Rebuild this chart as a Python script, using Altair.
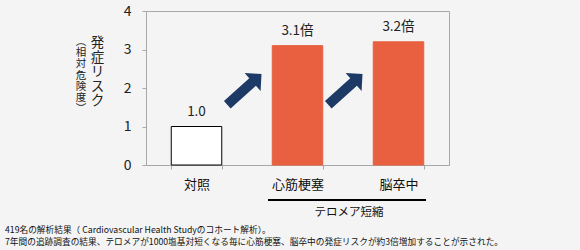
import altair as alt
import pandas as pd

categories = ["対照", "心筋梗塞", "脳卒中"]
risk = [1.0, 3.1, 3.2]
value_labels = ["1.0", "3.1倍", "3.2倍"]
arrow_targets = ["心筋梗塞", "脳卒中"]
y_ticks = [0, 1, 2, 3, 4]
axis_title_main = ["発", "症", "リ", "ス", "ク"]
axis_title_sub = ["︵", "相", "対", "危", "険", "度", "︶"]
group_label = "テロメア短縮"
footnotes = [
    "419名の解析結果（ Cardiovascular Health Studyのコホート解析）。",
    "7年間の追跡調査の結果、テロメアが1000塩基対短くなる毎に心筋梗塞、脳卒中の発症リスクが約3倍増加することが示された。",
]

FONT = "Noto Sans CJK JP"
ORANGE = "#E8603F"
NAVY = "#1D3A66"
GREY = "#A8A8A8"

df = pd.DataFrame({"cat": categories, "risk": risk, "label": value_labels})
arrows = pd.DataFrame({"cat": arrow_targets})
one = pd.DataFrame({"k": [0]})

xenc = alt.X(
    "cat:N",
    sort=categories,
    scale=alt.Scale(paddingInner=0.5, paddingOuter=0.25),
    axis=alt.Axis(
        title=None, labelAngle=0, tickBand="extent", domainColor=GREY,
        tickColor=GREY, tickSize=4, labelFontSize=13, labelPadding=9,
        labelColor="#111111", labelFont=FONT,
    ),
)
yenc = alt.Y(
    "risk:Q",
    scale=alt.Scale(domain=[0, 4]),
    axis=alt.Axis(
        values=y_ticks, tickCount=5, title=None, grid=False, domainColor=GREY,
        tickColor=GREY, tickSize=4, labelFontSize=14, labelPadding=11,
        labelColor="#222222", format="d", labelFont=FONT, labelOverlap=False,
    ),
)

bars = alt.Chart(df).mark_bar(strokeWidth=1).encode(
    x=xenc,
    y=yenc,
    fill=alt.Fill("cat:N", scale=alt.Scale(domain=categories, range=["#FFFFFF", ORANGE, ORANGE]), legend=None),
    stroke=alt.Stroke("cat:N", scale=alt.Scale(domain=categories, range=["#000000", ORANGE, ORANGE]), legend=None),
)

labels = alt.Chart(df).mark_text(
    baseline="bottom", dy=-8, fontSize=13.5, font=FONT, color="#222222"
).encode(x=xenc, y=yenc, text="label:N")

arrow_path = ("M -1.338 0.41 L -0.832 -0.046 L -0.738 0.058 L -0.72 -0.28 "
              "L -1.058 -0.298 L -0.965 -0.194 L -1.471 0.262 Z")
arrow_marks = alt.Chart(arrows).mark_point(
    shape=arrow_path, size=10000, filled=True, color=NAVY, opacity=1, strokeWidth=0
).encode(x=xenc, y=alt.value(77))

title_main = alt.Chart(one).mark_text(
    text=axis_title_main, fontSize=13.5, lineHeight=14.5, font=FONT,
    baseline="top", align="center", color="#222222",
).encode(x=alt.value(-48.5), y=alt.value(25))

title_sub = alt.Chart(one).mark_text(
    text=axis_title_sub, fontSize=10.5, lineHeight=11.2, font=FONT,
    baseline="top", align="center", color="#222222",
).encode(x=alt.value(-65), y=alt.value(26))

bracket = alt.Chart(one).mark_rule(color="#000000", strokeWidth=2).encode(
    x=alt.value(122), x2=alt.value(280), y=alt.value(189)
)
group_text = alt.Chart(one).mark_text(
    text=group_label, fontSize=11.5, font=FONT, baseline="middle", align="center", color="#111111"
).encode(x=alt.value(203), y=alt.value(202))

foot = alt.Chart(one).mark_text(
    text=footnotes, fontSize=8.7, lineHeight=11.5, font=FONT,
    baseline="top", align="left", color="#111111",
).encode(x=alt.value(-141), y=alt.value(215))

chart = alt.layer(
    bars, labels, arrow_marks, title_main, title_sub, bracket, group_text, foot
).properties(
    width=303, height=154,
    autosize=alt.AutoSizeParams(type="none"),
    padding={"left": 146, "top": 11, "right": 131, "bottom": 85},
    background="#F4F4F4",
).configure_view(stroke=GREY)

chart.save("out.html", embed_options={"renderer": "svg", "actions": False})
